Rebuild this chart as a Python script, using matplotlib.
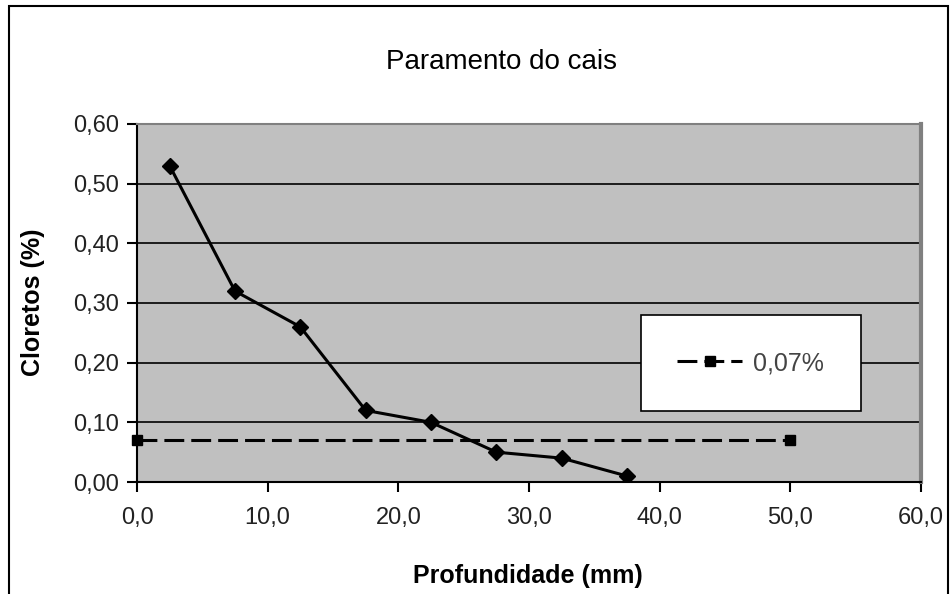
import matplotlib
matplotlib.use("Agg")
import matplotlib.pyplot as plt
from matplotlib.patches import Rectangle
from matplotlib.ticker import FuncFormatter

depth = [2.5, 7.5, 12.5, 17.5, 22.5, 27.5, 32.5, 37.5]
chlorides = [0.53, 0.32, 0.26, 0.12, 0.10, 0.05, 0.04, 0.01]
limit_x = [0.0, 50.0]
limit_y = [0.07, 0.07]
limit_label = "0,07%"
title = "Paramento do cais"
xlabel = "Profundidade (mm)"
ylabel = "Cloretos (%)"
xticks = [0, 10, 20, 30, 40, 50, 60]
yticks = [0.0, 0.1, 0.2, 0.3, 0.4, 0.5, 0.6]

plt.rcParams['font.family'] = ['Liberation Sans', 'DejaVu Sans']

W, H = 950, 594
fig = plt.figure(figsize=(W / 100, H / 100), dpi=100)
fig.patch.set_facecolor('white')

# outer chart frame
fig.patches.append(Rectangle((9 / W, -0.05), (948 - 9) / W, 1.05 - 6 / H,
                             transform=fig.transFigure, fill=False,
                             edgecolor='black', linewidth=1.5))

ax = fig.add_axes([137 / W, 1 - 482 / H, (921 - 137) / W, (482 - 124) / H])
ax.set_facecolor('#C0C0C0')
ax.set_xlim(0, 60)
ax.set_ylim(0, 0.6)

for y in yticks[1:-1]:
    ax.axhline(y, color='black', linewidth=1.2, zorder=1)

ax.plot(limit_x, limit_y, color='black', linestyle=(0, (6.5, 2.3)), linewidth=2.2,
        marker='s', markersize=6.5, label=limit_label, zorder=3, clip_on=False)
ax.plot(depth, chlorides, color='black', linewidth=2.2, marker='D',
        markersize=8, zorder=4)

ax.set_xticks(xticks)
ax.set_yticks(yticks)
ax.xaxis.set_major_formatter(FuncFormatter(lambda v, p: f"{v:.1f}".replace('.', ',')))
ax.yaxis.set_major_formatter(FuncFormatter(lambda v, p: f"{v:.2f}".replace('.', ',')))
ax.tick_params(axis='both', direction='out', length=7, width=1.5, labelsize=17,
               colors='black', labelcolor='#222222', pad=6)
ax.tick_params(axis='x', pad=11)

for s in ['left', 'bottom']:
    ax.spines[s].set_color('black')
    ax.spines[s].set_linewidth(1.5)
ax.spines['top'].set_color('#808080')
ax.spines['top'].set_linewidth(1.5)
ax.spines['right'].set_color('#808080')
ax.spines['right'].set_linewidth(3)

fig.text(502 / W, 1 - 69 / H, title, ha='center', va='baseline', fontsize=20)
fig.text(528 / W, 1 - 583 / H, xlabel, ha='center', va='baseline', fontsize=18,
         fontweight='bold')
fig.text(33 / W, 1 - 302 / H, ylabel, ha='center', va='center', fontsize=18,
         fontweight='bold', rotation=90)

leg = ax.legend(loc='upper left', bbox_to_anchor=((641 - 137) / (921 - 137), 1 - (315 - 124) / 358),
                frameon=True, fancybox=False, fontsize=18, handlelength=2.6,
                borderpad=1.45, borderaxespad=0, handletextpad=0.45)
leg.get_frame().set_edgecolor('black')
leg.get_frame().set_linewidth(1.2)
leg.get_frame().set_facecolor('white')
leg.get_frame().set_alpha(1)
for t in leg.get_texts():
    t.set_color('#444444')

fig.savefig('out.png', dpi=100)
